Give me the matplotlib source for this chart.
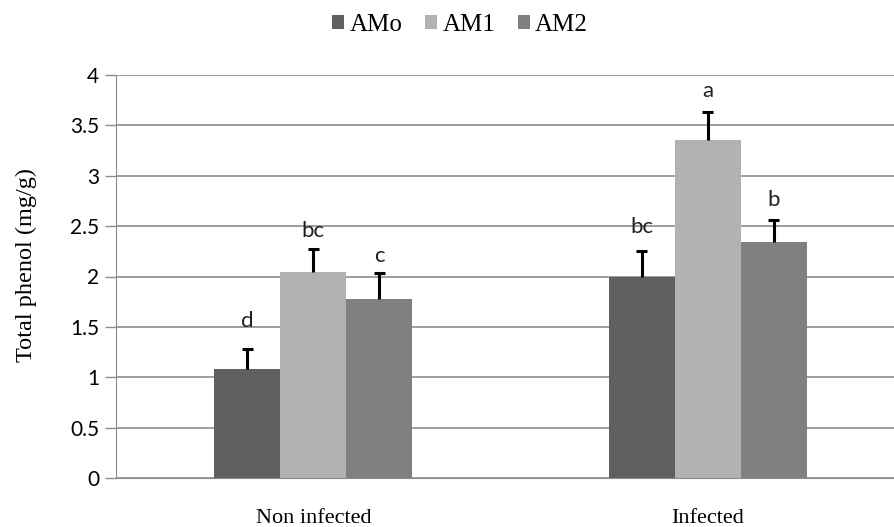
import numpy as np
import matplotlib
matplotlib.use("Agg")
import matplotlib.pyplot as plt

groups = ["Non infected", "Infected"]
series = ["AMo", "AM1", "AM2"]
colors = ["#606060", "#b2b2b2", "#808080"]
means = {
    "AMo": [1.08, 2.00],
    "AM1": [2.04, 3.35],
    "AM2": [1.78, 2.34],
}
errs = {
    "AMo": [0.20, 0.25],
    "AM1": [0.23, 0.28],
    "AM2": [0.25, 0.22],
}
letters = {
    "AMo": ["d", "bc"],
    "AM1": ["bc", "a"],
    "AM2": ["c", "b"],
}

W, H = 894, 527
fig = plt.figure(figsize=(W / 100, H / 100), dpi=100)
# axes extends slightly past the right edge like the original
ax = fig.add_axes([116 / W, (H - 478) / H, (905 - 116) / W, (478 - 75) / H])

# gap (px) between cap and letter baseline, the letters were placed by hand
gaps = {"AMo": [22, 18], "AM1": [12, 15], "AM2": [11, 14]}

x = np.arange(len(groups))
bw = 0.167
cap = 0.014
for i, s in enumerate(series):
    xs = x + (i - 1) * bw
    m = np.array(means[s])
    e = np.array(errs[s])
    ax.bar(xs, m, bw, color=colors[i], label=s, zorder=2)
    # upper error bar only
    ax.vlines(xs, m, m + e, color="black", linewidth=2.2, zorder=3)
    ax.hlines(m + e, xs - cap, xs + cap, color="black", linewidth=2.2, zorder=3)
    for xi, mi, ei, t, g in zip(xs, m, e, letters[s], gaps[s]):
        ax.annotate(t, (xi, mi + ei), xytext=(0, g * 0.72), textcoords="offset points",
                    ha="center", va="baseline", fontsize=16, family="Lato",
                    color="#222222")

ax.set_xlim(-0.5, 1.5)
ax.set_ylim(0, 4)
ax.set_yticks(np.arange(0, 4.01, 0.5))
ax.set_yticklabels(["0", "0.5", "1", "1.5", "2", "2.5", "3", "3.5", "4"],
                   fontsize=15, family="Lato")
ax.set_xticks(x)
ax.set_xticklabels(groups, fontsize=16, family="Liberation Serif")
ax.tick_params(axis="x", length=0, pad=22)
ax.tick_params(axis="y", length=8, color="#8c8c8c", width=1, pad=4)
ax.yaxis.grid(True, color="#8c8c8c", linewidth=1.2, zorder=0)
ax.set_axisbelow(True)
for sp in ["top", "right"]:
    ax.spines[sp].set_visible(False)
ax.spines["left"].set_color("#8c8c8c")
ax.spines["bottom"].set_color("#8c8c8c")
ax.set_ylabel("Total phenol (mg/g)", fontsize=17.5, family="Liberation Serif")
ax.yaxis.set_label_coords(-(116 - 37) / (905 - 116), (478 - 265) / (478 - 75))

fig.legend(loc="center", bbox_to_anchor=(460 / W, 1 - 25 / H), ncol=3,
           frameon=False, prop={"family": "Liberation Serif", "size": 18},
           handlelength=0.5, handleheight=0.5, handletextpad=0.2,
           columnspacing=0.9)

fig.savefig("out.png", dpi=100)
